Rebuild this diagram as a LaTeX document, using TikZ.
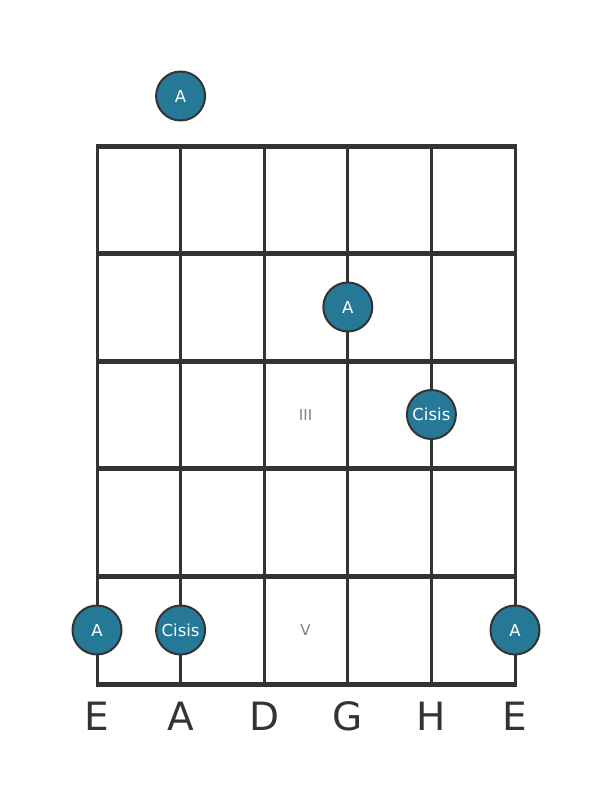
\documentclass[tikz,border=0pt]{standalone}
\usepackage{fontspec}
\setmainfont{DejaVu Sans}
\definecolor{dot}{RGB}{38,121,150}
\definecolor{ink}{RGB}{51,51,51}
\tikzset{
  fret/.style={draw=ink, line width=5pt},
  string/.style={draw=ink, line width=3pt},
  note/.style={circle, draw=ink, line width=2pt, fill=dot, minimum size=49pt, inner sep=0pt, text=white, font=\fontsize{16.5}{16.5}\selectfont},
  strname/.style={text=ink, font=\fontsize{39}{39}\selectfont, inner sep=0pt, anchor=base},
  roman/.style={text=gray, font=\fontsize{15}{15}\selectfont, inner sep=0pt}
}
\begin{document}
\begin{tikzpicture}[x=1pt,y=-1pt]
\useasboundingbox (0,0) rectangle (611,801);
% strings
\foreach \i/\x in {1/97,2/180.6,3/264.2,4/347.8,5/431.4,6/515}{
  \coordinate (st\i) at (\x,146);
  \coordinate (sb\i) at (\x,684);
  \draw[string] (st\i) -- (sb\i);
}
% frets
\foreach \j/\y in {0/146,1/253.6,2/361.2,3/468.8,4/576.4,5/684}{
  \coordinate (fl\j) at (95.5,\y);
  \coordinate (fr\j) at (516.5,\y);
  \draw[fret] (fl\j) -- (fr\j);
}
% roman numerals
\node[roman] (r3) at (305.6,415) {III};
\node[roman] (r5) at (305.6,630.5) {V};
% notes
\node[note] (n0) at (180.6,96) {A};
\node[note] (n1) at (347.8,307) {A};
\node[note] (n2) at (431.4,414.5) {Cisis};
\node[note] (n3) at (97,630) {A};
\node[note] (n4) at (180.6,630) {Cisis};
\node[note] (n5) at (515,630) {A};
% string names
\foreach \i/\x/\t in {1/97/E,2/180.6/A,3/264.2/D,4/347.8/G,5/431.4/H,6/515/E}{
  \node[strname] (l\i) at (\x,730) {\t};
}
\end{tikzpicture}
\end{document}
